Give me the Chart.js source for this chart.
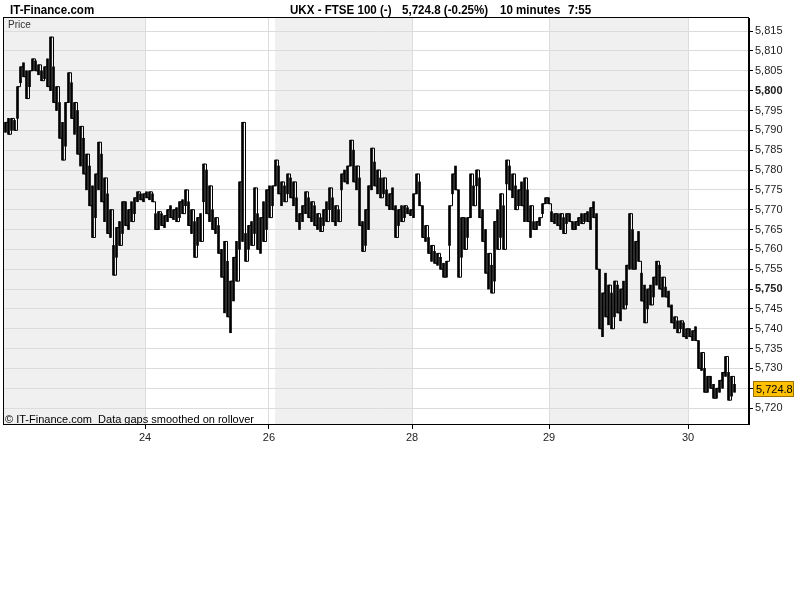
<!DOCTYPE html>
<html>
<head>
<meta charset="utf-8">
<script src="https://cdn.jsdelivr.net/npm/chart.js@4/dist/chart.umd.min.js"></script>
<style>
  html, body { margin: 0; padding: 0; background: #fff; }
  canvas { display: block; }
</style>
</head>
<body>
<canvas id="c" width="800" height="600"></canvas>
<script>
// 10-minute high/low bars, one [low, high] pair per bar, grouped by trading day
const bars23 = [
  [5789.5,5792],[5789,5793],[5790,5793],[5790,5792.5],[5793,5801],
  [5802,5806],[5803.5,5807],[5798,5805],[5801,5805],[5805,5808],
  [5805,5807.5],[5804,5806.5],[5802.5,5805],[5803,5806],[5801,5808],
  [5800,5813.5],[5797,5806],[5795,5801],[5788,5797],[5782.5,5792],
  [5786,5797],[5797,5804.5],[5793,5802],[5789,5797],[5784,5795],
  [5781,5791],[5779,5788],[5775,5784],[5771,5781],[5763,5776],
  [5768,5779],[5775,5787],[5772,5784],[5767,5778],[5764,5774],
  [5763,5770],[5753.5,5761],[5758,5765.5],[5761,5767],[5764,5772],
  [5766,5772],[5765,5770],[5767,5772],[5769,5773],[5772,5774.5],
  [5772.5,5774],[5772,5774]
];
const bars24 = [
  [5773,5774.5],[5772.5,5774.5],[5772,5774],[5765,5769],[5765,5769.5],
  [5766,5769],[5765.5,5768.5],[5767,5770],[5768,5771],[5767.5,5770],
  [5767,5770.5],[5768,5772],[5769,5772.5],[5771,5775],[5766,5772],
  [5764,5770],[5758,5767],[5761,5768],[5762,5769],[5772,5781.5],
  [5769,5780],[5767,5776],[5765,5770],[5764,5768],[5759,5766],
  [5753,5760],[5744,5762],[5743,5757],[5739,5752],[5747,5758],
  [5752,5762],[5760,5777],[5762,5792],[5757,5764],[5760,5766],
  [5761,5767],[5764,5775.5],[5760,5769],[5759,5768],[5762,5772],
  [5765,5775],[5768,5776]
];
const bars26 = [[5771,5776]];
const bars27 = [
  [5776,5782.5],[5774,5781],[5771,5777],[5772,5776],[5774,5779],
  [5773,5778],[5771,5777],[5767,5773],[5765,5769],[5767,5771],
  [5769,5774.5],[5768,5773],[5767,5772],[5766,5771],[5765,5769],
  [5764.5,5768],[5766,5770],[5767,5772],[5770,5775.5],[5767,5773],
  [5766,5771],[5767,5770],[5775,5779],[5777,5780],[5776.5,5781],
  [5781,5787.5],[5777,5785],[5775,5781],[5766,5778],[5759.5,5767],
  [5761,5770],[5765,5776],[5775,5785.5],[5776,5782],[5774,5780],
  [5773,5778],[5774,5778],[5771,5775],[5770,5774],[5770,5775.5],
  [5763,5771],[5766,5770],[5767,5771],[5768,5771],[5769,5770.5],
  [5768.5,5770]
];
const bars28 = [
  [5768,5774],[5774,5779],[5771,5777],[5763,5771],[5762,5766],
  [5759,5763],[5757,5761],[5756.5,5759.5],[5756,5759],[5755,5758],
  [5753,5756.5],[5753,5757],[5761,5771],[5774,5779],[5775,5781],
  [5753,5775],[5758,5768],[5760,5768],[5763,5768],[5768,5779],
  [5771,5776],[5776,5780],[5768,5778],[5762,5770],[5754,5765],
  [5750,5759],[5749,5756],[5752,5767],[5760,5770],[5763,5774],
  [5760,5771],[5776.5,5782.5],[5775,5781],[5773,5779],[5770,5776],
  [5771,5775],[5771,5777],[5767,5778],[5767,5775],[5763,5771],
  [5765,5767],[5765,5767],[5766,5768],[5769,5771.5],[5771.5,5773],
  [5771.5,5773]
];
const bars29 = [
  [5767,5769.5],[5766.5,5769],[5766,5769],[5765,5769],[5764,5768],
  [5766.5,5769],[5767,5769],[5765,5767],[5765,5767],[5766,5768],
  [5766.5,5769],[5767,5769],[5767,5769.5],[5765,5770.5],[5768,5772],
  [5755,5769],[5740,5755],[5738,5749],[5743,5754],[5741,5751],
  [5740,5749],[5743,5752],[5744,5751],[5742,5750],[5745,5752],
  [5746,5756],[5755,5769],[5755,5765],[5755,5762],[5757,5764.5],
  [5747,5754],[5741.5,5751],[5745,5750],[5746,5751],[5748,5753],
  [5751,5757],[5750,5756],[5748,5753],[5748,5750.5],[5745.5,5749.5],
  [5741.5,5746],[5740,5743],[5739,5742],[5740,5742],[5738,5741.5],
  [5737.5,5740]
];
const bars30 = [
  [5738,5740],[5737,5739.5],[5737,5740.5],[5730,5737],[5729.5,5734],
  [5724,5730],[5724,5728],[5725,5728],[5722.5,5726],[5722.5,5725],
  [5724,5727],[5725,5729],[5728,5733],[5722,5729],[5723,5728],
  [5724,5726]
];

// day start positions (in bar units) and which ones get a label / shading
const dayNames  = ['23', '24', '26', '27', '28', '29', '30'];
const dayStarts = [0, 47, 88.3, 90.3, 136, 181.7, 228];
const dayShaded = [true, false, false, true, false, true, false];
const dayLabelled = ['24', '26', '28', '29', '30'];
const totalSlots = 248.33;

const yTicks = [5720,5725,5730,5735,5740,5745,5750,5755,5760,5765,5770,5775,5780,5785,5790,5795,5800,5805,5810,5815];
const yMin = 5716, yMax = 5818.3;
const lastPrice = 5724.8;
const header = { site: 'IT-Finance.com', symbol: 'UKX - FTSE 100 (-)', quote: '5,724.8 (-0.25%)', period: '10 minutes', time: '7:55' };

const allBars = [...bars23, ...bars24, ...bars26, ...bars27, ...bars28, ...bars29, ...bars30];
const FONT = '"Liberation Sans", Arial, sans-serif';

// walk every bar from the end nearest the previous one, so a stepped line links the high-low strokes
const pricePath = [];
allBars.forEach(([lo, hi], i) => {
  const prev = pricePath.length ? pricePath[pricePath.length - 1].y : lo;
  const order = Math.abs(prev - hi) < Math.abs(prev - lo) ? [hi, lo] : [lo, hi];
  order.forEach(v => pricePath.push({ x: i + 0.5, y: v }));
});

function fmt(v) { return v.toLocaleString('en-US'); }

// header font is a little narrower than Liberation Sans bold
function narrowText(ctx, text, x, y) {
  ctx.save();
  ctx.translate(x, y);
  ctx.scale(0.89, 1);
  ctx.fillText(text, 0, 0);
  ctx.restore();
}

const bandsPlugin = {
  id: 'bands',
  beforeDraw(chart) {
    const { ctx, chartArea: a, scales: { x } } = chart;
    ctx.save();
    ctx.fillStyle = '#fff';
    ctx.fillRect(0, 0, chart.width, chart.height);
    ctx.fillStyle = '#f0f0f0';
    dayStarts.forEach((s, i) => {
      if (!dayShaded[i]) return;
      const end = i + 1 < dayStarts.length ? dayStarts[i + 1] : totalSlots;
      const x0 = Math.round(x.getPixelForValue(s)), x1 = Math.round(x.getPixelForValue(end));
      ctx.fillRect(x0, a.top, x1 - x0, a.bottom - a.top);
    });
    ctx.restore();
  }
};

const decorPlugin = {
  id: 'decor',
  afterDraw(chart) {
    const { ctx, chartArea: a, scales: { y } } = chart;
    ctx.save();
    ctx.strokeStyle = '#000';
    ctx.lineWidth = 1;
    ctx.strokeRect(a.left - 0.5, a.top - 0.5, a.right - a.left, a.bottom - a.top + 1);

    ctx.fillStyle = '#000';
    ctx.textBaseline = 'alphabetic';
    ctx.font = 'bold 13px ' + FONT;
    narrowText(ctx, header.site, 10, 14);
    narrowText(ctx, header.symbol, 290, 14);
    narrowText(ctx, header.quote, 402, 14);
    narrowText(ctx, header.period, 500, 14);
    narrowText(ctx, header.time, 568, 14);

    ctx.fillStyle = '#333';
    ctx.font = '10px ' + FONT;
    ctx.fillText('Price', 8, 28);
    ctx.fillStyle = '#000';
    ctx.font = '11px ' + FONT;
    ctx.fillText('\u00A9 IT-Finance.com  Data gaps smoothed on rollover', 5, 423);

    const py = Math.round(y.getPixelForValue(lastPrice));
    ctx.fillStyle = '#ffc000';
    ctx.fillRect(754, py - 7, 40, 14);
    ctx.strokeStyle = '#9a7000';
    ctx.strokeRect(753.5, py - 7.5, 40, 15);
    ctx.fillStyle = '#000';
    ctx.font = '11px ' + FONT;
    ctx.textBaseline = 'middle';
    ctx.fillText(lastPrice.toLocaleString('en-US', { minimumFractionDigits: 1 }), 756, py + 1);
    ctx.restore();
  }
};

new Chart(document.getElementById('c'), {
  data: {
    datasets: [{
      type: 'bar',
      data: allBars.map((b, i) => ({ x: i + 0.5, y: b })),
      backgroundColor: '#000',
      borderWidth: 0,
      barThickness: 2,
      borderSkipped: false
    }, {
      type: 'line',
      data: pricePath,
      borderColor: '#000',
      borderWidth: 1,
      pointRadius: 0,
      stepped: true,
      fill: false
    }]
  },
  options: {
    responsive: false,
    animation: false,
    events: [],
    layout: { padding: { left: 4, top: 18, right: 0, bottom: 156 } },
    plugins: { legend: { display: false }, tooltip: { enabled: false } },
    scales: {
      x: {
        type: 'linear',
        offset: false,
        min: 0,
        max: totalSlots,
        afterBuildTicks(scale) {
          scale.ticks = dayLabelled.map(d => ({ value: dayStarts[dayNames.indexOf(d)] }));
        },
        afterFit(scale) { scale.height = 20; },
        ticks: {
          autoSkip: false,
          maxRotation: 0,
          padding: 2,
          color: '#222',
          font: { family: FONT, size: 11 },
          callback: v => dayNames[dayStarts.indexOf(v)]
        },
        grid: { offset: false, color: '#dcdcdc', tickColor: '#000', tickLength: 5 },
        border: { color: '#000' }
      },
      y: {
        position: 'right',
        min: yMin,
        max: yMax,
        afterBuildTicks(scale) { scale.ticks = yTicks.map(v => ({ value: v })); },
        afterFit(scale) { scale.width = 51; },
        ticks: {
          padding: 2,
          color: '#222',
          font: ctx => ({ family: FONT, size: 11, weight: ctx.tick && ctx.tick.value % 50 === 0 ? 'bold' : 'normal' }),
          callback: v => fmt(v)
        },
        grid: { color: '#dcdcdc', tickColor: '#000', tickLength: 4 },
        border: { color: '#000' }
      }
    }
  },
  plugins: [bandsPlugin, decorPlugin]
});
</script>
</body>
</html>
